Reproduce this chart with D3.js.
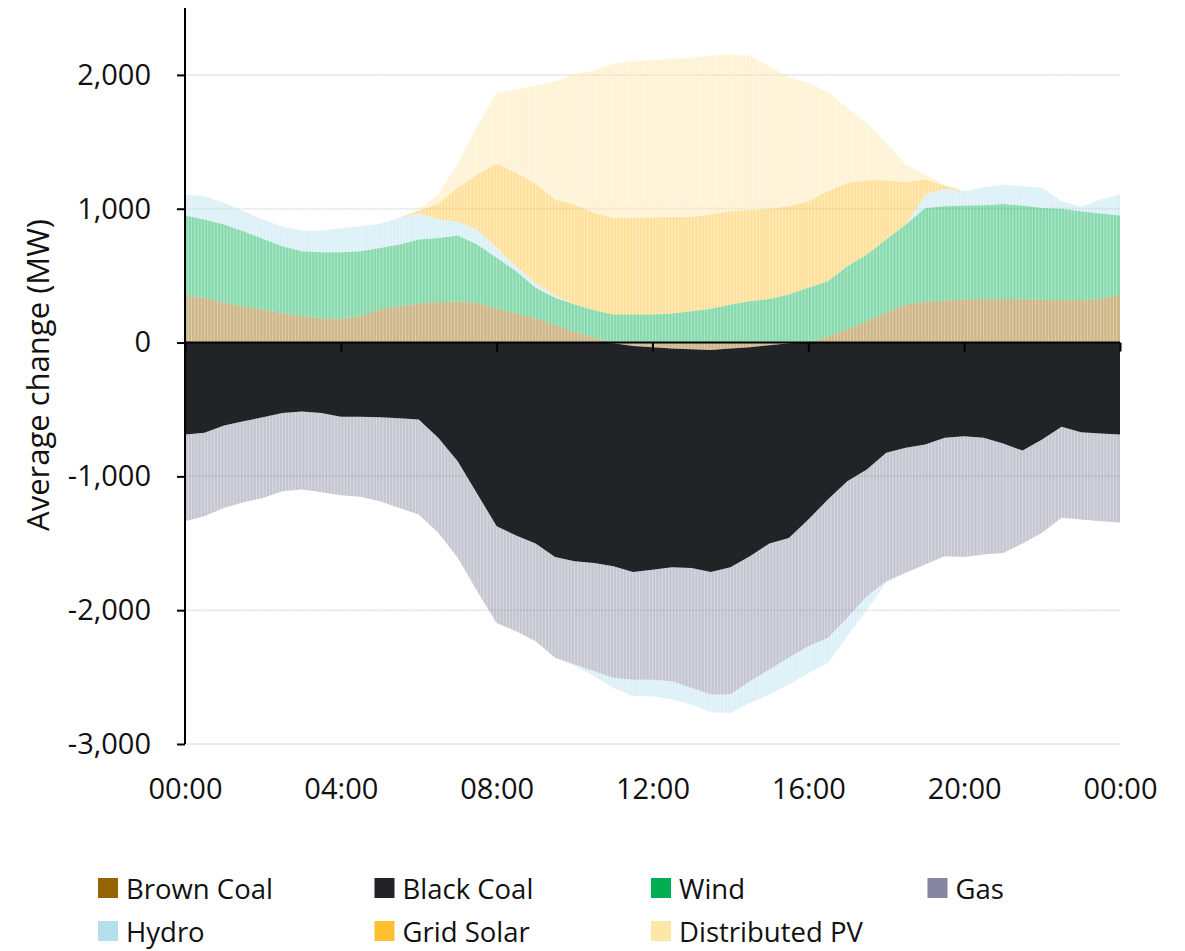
<!DOCTYPE html>
<html>
<head>
<meta charset="utf-8">
<script src="https://cdn.jsdelivr.net/npm/d3@7"></script>
<style>
  body { margin: 0; background: #fff; }
  svg text { font-family: "Open Sans", "Noto Sans", sans-serif; fill: #111; }
</style>
</head>
<body>
<div id="chart"></div>
<script>
// half-hourly average change (MW), 00:00 .. 24:00
const seriesNames = ["Brown Coal", "Black Coal", "Wind", "Gas", "Hydro", "Grid Solar", "Distributed PV"];
const colours = ["#946400", "#222326", "#00b050", "#8585a0", "#b4e0ee", "#fec02d", "#fee6a8"];

const brownCoal = [350,334,297,271,247,217,197,179,177,197,247,271,291,301,306,297,255,217,180,130,80,35,-5,-25,-35,-45,-50,-55,-45,-35,-20,-5,0,45,100,160,225,285,305,315,322,325,325,322,320,318,318,325,355];
const blackCoal = [-688,-675,-620,-588,-558,-526,-516,-526,-555,-555,-558,-566,-575,-712,-887,-1129,-1373,-1442,-1502,-1602,-1634,-1647,-1667,-1689,-1662,-1634,-1634,-1659,-1634,-1562,-1482,-1455,-1323,-1173,-1037,-949,-824,-787,-762,-712,-700,-712,-755,-807,-725,-630,-670,-680,-688];
const wind = [599,585,585,561,528,503,485,496,498,485,460,461,479,481,494,435,378,316,229,204,204,206,209,209,209,217,234,252,284,309,326,359,409,413,470,498,545,597,701,704,702,701,711,702,686,681,663,639,594];
const gas = [-647,-623,-616,-606,-603,-585,-583,-593,-586,-598,-628,-670,-710,-710,-722,-729,-722,-716,-730,-754,-772,-809,-834,-805,-822,-852,-897,-917,-952,-934,-942,-896,-947,-1034,-1021,-947,-960,-934,-897,-885,-902,-872,-817,-695,-697,-680,-653,-655,-657];
const hydro = [157,175,162,149,144,145,155,162,177,187,180,200,195,140,105,110,75,37,37,17,-10,-38,-75,-124,-124,-137,-125,-132,-137,-162,-187,-200,-199,-187,-137,-100,-10,0,100,130,107,135,145,144,150,57,33,105,157];
const gridSolar = [0,0,0,0,0,0,0,0,0,0,0,0,20,117,251,414,628,698,740,718,747,728,723,723,728,722,705,705,697,680,673,660,647,673,623,555,443,316,112,24,0,0,0,0,0,0,0,0,0];
const distributedPV = [0,0,0,0,0,0,0,0,0,0,0,0,10,67,180,361,530,623,735,884,972,1066,1153,1170,1173,1183,1189,1190,1171,1156,1066,966,884,742,561,429,279,132,38,5,0,0,0,0,0,0,0,0,0];

const yTicks = [-3000, -2000, -1000, 0, 1000, 2000];
const xTicks = [0, 4, 8, 12, 16, 20, 24];
const xTickLabels = ["00:00", "04:00", "08:00", "12:00", "16:00", "20:00", "00:00"];

const seriesValues = [brownCoal, blackCoal, wind, gas, hydro, gridSolar, distributedPV];
const hours = d3.range(brownCoal.length).map(i => i / 2);

let width = 1185, height = 951;
let svg = d3.select("#chart").append("svg")
    .attr("width", width)
    .attr("height", height);

let x = d3.scaleLinear().domain([0, 24]).range([185, 1120]);
let y = d3.scaleLinear().domain([-3000, 2500]).range([744, 8]);

let locale = d3.formatLocale({decimal: ".", thousands: ",", grouping: [3], currency: ["", ""], minus: "-"});
let fmt = locale.format(",");

// gridlines
svg.append("g")
    .selectAll("line")
    .data(yTicks.filter(d => d !== 0))
    .enter().append("line")
    .attr("x1", x(0)).attr("x2", x(24))
    .attr("y1", d => y(d)).attr("y2", d => y(d))
    .attr("stroke", "#ebebeb")
    .attr("stroke-width", 2);

// rows for stacking: every series split into a positive and a negative layer,
// so sign changes collapse onto the right edge of the stack
let rows = hours.map((h, i) => {
    let r = {h: h};
    seriesNames.forEach((s, k) => {
        r[s + "|pos"] = Math.max(0, seriesValues[k][i]);
        r[s + "|neg"] = Math.min(0, seriesValues[k][i]);
    });
    return r;
});
let keys = [];
seriesNames.forEach(s => { keys.push(s + "|pos"); keys.push(s + "|neg"); });

function offsetSigned(series, order) {
    for (let j = 0, m = series[0].length; j < m; ++j) {
        let yp = 0, yn = 0;
        for (let i = 0; i < series.length; ++i) {
            let s = series[order[i]], d = s[j];
            let dy = d[1] - d[0];
            if (s.key.endsWith("|pos")) { d[0] = yp; d[1] = yp += dy; }
            else { d[1] = yn; d[0] = yn += dy; }
        }
    }
}

let stacked = d3.stack()
    .keys(keys)
    .order(d3.stackOrderNone)
    .offset(offsetSigned)(rows);

let area = d3.area()
    .x(d => x(d.data.h))
    .y0(d => y(d[0]))
    .y1(d => y(d[1]));

function colourOf(key) { return colours[seriesNames.indexOf(key.split("|")[0])]; }
let isBlack = k => k.startsWith("Black Coal");

svg.append("g")
    .selectAll("path")
    .data(stacked.filter(s => !isBlack(s.key)))
    .enter().append("path")
    .attr("d", area)
    .attr("fill", d => colourOf(d.key))
    .attr("fill-opacity", 0.47);

// thin gaps between the 5 minute columns
svg.append("g")
    .selectAll("line")
    .data(d3.range(1, 288).map(i => i / 12))
    .enter().append("line")
    .attr("x1", d => x(d)).attr("x2", d => x(d))
    .attr("y1", y(2500)).attr("y2", y(-3000))
    .attr("stroke", "#fff")
    .attr("stroke-opacity", 0.35)
    .attr("stroke-width", 1);

svg.append("g")
    .selectAll("path")
    .data(stacked.filter(s => isBlack(s.key)))
    .enter().append("path")
    .attr("d", area)
    .attr("fill", d => colourOf(d.key));

// y axis
svg.append("g")
    .attr("transform", "translate(" + x(0) + ",0)")
    .call(d3.axisLeft(y).tickValues(yTicks).tickSize(8).tickPadding(26).tickFormat(fmt))
    .call(g => g.select(".domain").attr("stroke", "#000").attr("stroke-width", 2).attr("d", "M0," + y(2500) + "V" + y(-3000)))
    .call(g => g.selectAll(".tick line").attr("stroke", "#000").attr("stroke-width", 2))
    .call(g => g.selectAll("text").attr("font-size", 29).attr("fill", "#111").attr("font-family", null));

// zero line with ticks
svg.append("g")
    .attr("transform", "translate(0," + y(0) + ")")
    .call(d3.axisBottom(x).tickValues(xTicks).tickSize(9).tickFormat(""))
    .call(g => g.select(".domain").attr("stroke", "#000").attr("stroke-width", 2).attr("d", "M" + x(0) + ",0H" + x(24)))
    .call(g => g.selectAll(".tick line").attr("stroke", "#000").attr("stroke-width", 2));

// time labels at the bottom
svg.append("g")
    .attr("transform", "translate(0," + y(-3000) + ")")
    .call(d3.axisBottom(x).tickValues(xTicks).tickSize(0).tickPadding(34).tickFormat((d, i) => xTickLabels[i]))
    .call(g => g.select(".domain").remove())
    .call(g => g.selectAll("text").attr("font-size", 29).attr("fill", "#111").attr("font-family", null));

svg.append("text")
    .attr("transform", "translate(37," + 375 + ") rotate(-90)")
    .attr("text-anchor", "middle")
    .attr("dominant-baseline", "central")
    .attr("font-size", 31)
    .text("Average change (MW)");

// legend
let legend = svg.append("g")
    .selectAll("g")
    .data(seriesNames)
    .enter().append("g")
    .attr("transform", (d, i) => "translate(" + (98 + (i % 4) * 276.5) + "," + (878 + Math.floor(i / 4) * 43) + ")");
legend.append("rect")
    .attr("width", 20).attr("height", 20)
    .attr("fill", (d, i) => colours[i]);
legend.append("text")
    .attr("x", 28).attr("y", 10)
    .attr("dominant-baseline", "central")
    .attr("font-size", 27.5)
    .text(d => d);
</script>
</body>
</html>
